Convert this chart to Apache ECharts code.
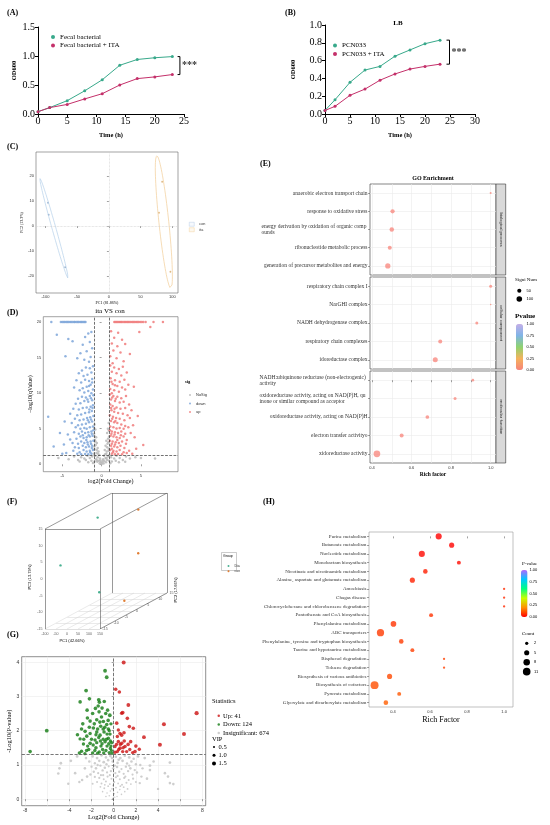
<!DOCTYPE html>
<html>
<head>
<meta charset="utf-8">
<title>Figure</title>
<script src="https://cdn.jsdelivr.net/npm/echarts@6/dist/echarts.min.js"></script>
<style>
  html, body { margin: 0; padding: 0; background: #fff; }
  #fig { width: 550px; height: 825px; }
</style>
</head>
<body>
<div id="fig"></div>
<script>
// ---------- (A) growth of fecal bacteria ----------
var timeA = [0, 2, 5, 8, 11, 14, 17, 20, 23];
var odFecal = [0.04, 0.11, 0.23, 0.40, 0.59, 0.84, 0.94, 0.97, 0.99];
var odFecalIta = [0.04, 0.11, 0.165, 0.26, 0.35, 0.50, 0.61, 0.64, 0.68];

// ---------- (B) PCN033 in LB ----------
var timeB = [0, 2, 5, 8, 11, 14, 17, 20, 23];
var odPcn = [0.04, 0.16, 0.356, 0.494, 0.535, 0.65, 0.72, 0.79, 0.83];
var odPcnIta = [0.04, 0.086, 0.21, 0.28, 0.38, 0.45, 0.505, 0.535, 0.56];

// ---------- (C) PCA scores ----------
var pcaCon = [[-96, 9.3], [-95, 4.5], [-69, -16.5]];
var pcaIta = [[84, 17.7], [79, 5.3], [97, -18.3]];
var pcaTicksX = [-100, -50, 0, 50, 100];
var pcaTicksY = [-20, -10, 0, 10, 20];

// ---------- (D) volcano ita VS con : [log2FC, -log10 q] ----------
var volDown = [
  [-2.05,20],[-2.18,20],[-2.31,20],[-2.47,20],[-2.6,20],[-2.74,20],[-2.93,20],[-3.05,20],[-3.22,20],[-3.4,20],[-3.51,20],
  [-3.7,20],[-3.86,20],[-4.02,20],[-4.21,20],[-4.35,20],[-4.5,20],[-4.68,20],[-4.83,20],[-5.0,20],[-5.18,20],[-6.4,20],
  [-1.3,18.6],[-1.7,18.4],[-2.1,17.9],[-1.5,17.2],[-2.4,16.8],[-1.2,16.3],[-1.9,15.9],[-2.7,15.6],[-1.4,15.1],[-2.2,14.7],
  [-1.6,14.4],[-3.1,14.9],[-5.7,18.2],[-4.24,17.6],[-3.7,17.3],[-4.6,15.2],
  [-1.1,13.8],[-1.5,13.5],[-2.0,13.6],[-2.5,13.2],[-1.3,12.9],[-1.8,12.6],[-2.3,12.4],[-2.9,12.8],[-1.2,12.0],[-1.6,11.7],
  [-2.1,11.9],[-2.6,11.5],[-3.2,11.8],[-1.4,11.2],[-1.9,10.9],[-2.4,10.7],[-1.1,10.5],[-1.7,10.3],[-2.2,10.1],[-2.8,10.4],
  [-3.5,10.8],[-1.3,10.0],
  [-1.05,9.7],[-1.5,9.6],[-2.0,9.4],[-2.5,9.5],[-3.0,9.2],[-1.2,9.0],[-1.7,8.8],[-2.2,8.9],[-2.7,8.6],[-3.3,8.5],[-1.1,8.3],
  [-1.4,8.1],[-1.9,8.0],[-2.4,7.9],[-2.9,7.7],[-3.6,7.8],[-1.25,7.5],[-1.6,7.3],[-2.1,7.2],[-2.6,7.0],[-3.1,6.9],[-4.0,7.1],
  [-1.05,6.8],[-1.45,6.6],[-1.85,6.5],[-2.3,6.3],[-2.8,6.2],[-3.4,6.4],[-6.8,6.7],[-1.2,6.0],[-1.6,5.9],[-2.0,5.7],[-2.5,5.6],
  [-3.0,5.5],[-3.8,5.8],[-4.7,6.0],[-1.1,5.3],[-1.5,5.2],[-1.9,5.0],[-2.2,5.1],[-2.7,5.0],[-3.3,5.2],
  [-1.05,4.8],[-1.3,4.6],[-1.7,4.5],[-2.1,4.4],[-2.5,4.6],[-2.9,4.3],[-3.5,4.5],[-4.3,4.2],[-5.3,4.4],[-1.15,4.0],[-1.5,3.9],
  [-1.9,3.8],[-2.3,3.7],[-2.7,3.9],[-3.2,3.6],[-4.0,3.5],[-1.05,3.3],[-1.4,3.2],[-1.8,3.1],[-2.2,3.0],[-2.6,3.2],[-3.0,2.9],
  [-3.7,3.0],[-4.8,2.8],[-1.2,2.6],[-1.6,2.5],[-2.0,2.4],[-2.4,2.6],[-2.9,2.3],[-3.4,2.4],[-6.1,2.5],[-1.1,2.0],[-1.5,1.9],
  [-1.9,1.8],[-2.3,2.0],[-2.8,1.7],[-3.6,1.9],[-4.5,1.6],[-1.3,1.5],[-1.7,1.4],[-2.1,1.45],[-2.6,1.4],[-3.1,1.5],[-5.0,1.5],
  [-1.35,9.3],[-1.8,9.1],[-1.15,7.9],[-1.55,7.7],[-1.35,6.3],[-1.75,6.2],[-1.25,4.3],[-1.65,4.1],[-1.35,2.9],[-1.75,2.8],
  [-1.25,2.3],[-1.45,1.7],[-1.95,3.4],[-2.4,4.1],[-1.6,11.0],[-1.2,11.5]
];
var volUp = [
  [1.62,20],[1.75,20],[1.9,20],[2.03,20],[2.2,20],[2.34,20],[2.48,20],[2.61,20],[2.8,20],[2.95,20],[3.1,20],[3.27,20],[3.4,20],
  [3.55,20],[3.72,20],[3.9,20],[4.05,20],[4.2,20],[4.38,20],[4.55,20],[4.7,20],[4.9,20],[5.1,20],[5.3,20],[5.6,20],[6.6,20],[7.8,20],
  [1.2,18.7],[2.1,18.5],[1.6,17.8],[2.6,17.5],[1.3,17.0],[2.0,16.6],[3.0,16.9],[1.5,16.0],[2.4,15.7],[1.1,15.2],[1.9,14.9],
  [2.8,14.5],[3.6,15.5],[1.4,14.2],[4.8,18.6],[6.2,19.3],
  [1.1,13.9],[1.6,13.6],[2.2,13.4],[2.7,13.7],[1.3,13.0],[1.9,12.8],[2.5,12.5],[3.2,12.9],[1.15,12.1],[1.7,11.8],[2.3,11.6],
  [2.9,11.9],[1.4,11.3],[2.0,11.0],[2.6,10.8],[3.4,11.2],[1.1,10.6],[1.6,10.4],[2.2,10.2],[3.0,10.5],[4.1,10.9],[1.3,10.0],
  [1.05,9.8],[1.5,9.6],[2.0,9.5],[2.5,9.3],[3.1,9.6],[1.2,9.1],[1.7,8.9],[2.3,8.7],[2.8,8.8],[3.5,8.4],[1.1,8.4],[1.4,8.2],
  [1.9,8.0],[2.4,7.8],[3.0,7.9],[3.8,7.6],[1.25,7.6],[1.6,7.4],[2.1,7.2],[2.7,7.1],[3.3,6.9],[1.05,6.9],[1.45,6.7],[1.85,6.5],
  [2.3,6.4],[2.9,6.2],[3.6,6.5],[4.6,6.8],[1.2,6.1],[1.6,5.9],[2.0,5.8],[2.5,5.6],[3.0,5.4],[4.0,5.5],[1.1,5.3],[1.5,5.2],
  [1.9,5.05],[2.3,5.1],[2.8,5.0],[3.4,5.2],
  [1.05,4.8],[1.3,4.6],[1.7,4.5],[2.1,4.4],[2.5,4.6],[3.0,4.3],[3.7,4.4],[1.15,4.0],[1.5,3.9],[1.9,3.8],[2.3,3.7],[2.8,3.9],
  [3.2,3.4],[4.2,3.8],[1.05,3.3],[1.4,3.2],[1.8,3.1],[2.2,3.0],[2.6,3.2],[3.1,2.9],[1.2,2.6],[1.6,2.5],[2.0,2.4],[2.4,2.6],
  [2.9,2.3],[5.3,2.7],[1.1,2.0],[1.5,1.9],[1.9,1.8],[2.3,2.0],[2.8,1.7],[3.5,1.9],[4.4,2.2],[1.3,1.5],[1.7,1.4],[2.1,1.45],
  [2.6,1.4],[3.2,1.6],[3.9,1.5],
  [1.35,9.4],[1.8,9.2],[1.2,7.9],[1.65,7.8],[1.35,6.4],[1.75,6.1],[1.25,4.3],[1.65,4.2],[1.3,2.9],[1.7,2.8],[1.3,2.2],
  [1.45,1.7],[2.0,3.4],[2.45,4.1],[1.7,11.1],[1.25,11.6]
];
var volNoSig = [
  [-0.9,5.6],[0.9,5.8],[-0.8,4.9],[0.8,5.0],[-0.95,4.3],[0.7,4.4],[-0.7,3.8],[0.95,3.9],[-0.85,3.4],[0.6,3.3],[-0.6,3.0],
  [0.85,3.1],[-0.75,2.7],[0.5,2.6],[-0.5,2.3],[0.7,2.4],[-0.9,2.1],[0.4,2.0],[-0.4,1.8],[0.9,1.9],[-0.65,1.6],[0.6,1.5],
  [-0.3,1.3],[0.3,1.2],[-0.8,1.2],[0.8,1.1],[-0.5,1.0],[0.5,0.9],[-0.2,0.8],[0.2,0.7],[-0.7,0.7],[0.7,0.6],[-0.35,0.5],
  [0.35,0.45],[-0.1,0.3],[0.1,0.25],[-0.55,0.35],[0.55,0.3],[-0.25,0.15],[0.25,0.1],[0,0.05],[-0.9,0.4],[0.95,0.5],
  [-0.95,5.1],[0.92,4.7],[-0.88,3.9],[0.82,3.6],[-0.78,3.2],[0.75,2.9],[-0.92,2.5],[0.9,2.2],[-0.62,2.0],[0.65,1.8],
  [-0.45,1.5],[0.45,1.4],[-0.98,1.5],[0.98,1.3],[-0.15,0.55],[0.15,0.5],[-0.6,0.55],[0.6,0.85],
  [-1.2,1.1],[-1.5,0.9],[-1.8,1.2],[-2.2,0.8],[-2.6,1.0],[-3.0,0.6],[-3.5,1.1],[-4.2,0.7],[-1.3,0.5],[-1.7,0.3],[-2.0,0.6],
  [-2.8,0.4],[-5.5,0.9],[1.2,1.0],[1.6,0.8],[1.9,1.2],[2.3,0.9],[2.7,0.6],[3.1,1.1],[3.6,0.8],[4.3,1.0],[1.3,0.4],[1.8,0.5],
  [2.2,0.3],[3.0,0.35],[5.0,0.9],[6.8,0.8],[-1.1,0.2],[1.1,0.15]
];
var volTicksX = [-5, 0, 5];
var volTicksY = [0, 5, 10, 15, 20];

// ---------- (E) GO enrichment, three facets ----------
var goBP = ['anaerobic electron transport chain', 'response to oxidative stress',
  'energy derivation by oxidation of organic comp\nounds', 'ribonucleotide metabolic process',
  'generation of precursor metabolites and energy'];
var goBPRich = [1.0, 0.504, 0.50, 0.49, 0.48];
var goBPNum = [16, 74, 81, 64, 112];
var goBPP = [0.01, 0.001, 0.001, 0.002, 0.0005];
var goCC = ['respiratory chain complex I', 'NarGHI complex', 'NADH dehydrogenase complex',
  'respiratory chain complexes', 'idoreductase complex'];
var goCCRich = [1.0, 1.0, 0.93, 0.745, 0.72];
var goCCNum = [36, 9, 36, 64, 100];
var goCCP = [0.004, 0.02, 0.003, 0.001, 0.0005];
var goMF = ['NADH:ubiquinone reductase (non-electrogenic)\nactivity',
  'oxidoreductase activity, acting on NAD(P)H, qu\ninone or similar compound as acceptor',
  'oxidoreductase activity, acting on NAD(P)H', 'electron transfer activityo', 'xidoreductase activity'];
var goMFRich = [0.91, 0.82, 0.68, 0.55, 0.425];
var goMFNum = [29, 36, 55, 64, 180];
var goMFP = [0.005, 0.004, 0.002, 0.002, 0.0001];
var goTicks = [0.4, 0.6, 0.8, 1.0];
var goGrid = [0.4, 0.5, 0.6, 0.7, 0.8, 0.9, 1.0];
var goSizeKeys = [50, 100];
var pTicks = [0, 0.25, 0.5, 0.75, 1];

// ---------- (F) 3D PCA: [PC1, PC2, PC3] ----------
var f3Dia = [[17.5, -3, 14.1], [-60, -12, 3], [55, -6, -7.2]];
var f3Con = [[50, 12, 11.1], [80, 9, -0.9], [47.5, 6, -14.1]];
var f3Ticks1 = [-100, -50, 0, 50, 100, 150];
var f3Ticks2 = [-15, -10, -5, 0, 5, 10, 15];
var f3Ticks3 = [-15, -10, -5, 0, 5, 10, 15];

// ---------- (G) metabolite volcano: [log2FC, -log10 p, VIP] ----------
var metDown = [
  [-0.78,3.75,1.4],[-0.63,3.56,1.4],[-2.49,3.17,1.4],[-2.19,2.93,1.3],[-3.03,2.84,1.3],[-1.35,2.9,1.4],[-1.29,2.83,1.3],
  [-6.04,2.0,1.4],[-7.54,1.39,1.3],[-1.4,2.72,1.3],[-1.65,2.65,1.3],[-1.05,2.66,1.3],[-0.35,2.45,1.4],[-1.32,2.55,1.3],
  [-0.72,2.5,1.3],[-2.37,2.37,1.3],[-2.79,2.2,1.3],[-2.13,2.28,1.3],[-1.53,2.32,1.3],[-0.93,2.27,1.3],[-3.27,1.88,1.3],
  [-2.58,1.98,1.3],[-1.83,2.08,1.3],[-1.17,2.13,1.3],[-0.63,2.18,1.3],[-2.13,1.92,1.2],[-1.53,1.96,1.3],[-3.03,1.76,1.2],
  [-2.43,1.84,1.3],[-1.68,1.73,1.2],[-1.23,1.87,1.3],[-0.87,1.96,1.3],[-0.48,2.05,1.3],[-0.33,1.9,1.2],[-2.73,1.61,1.2],
  [-2.13,1.63,1.3],[-1.53,1.65,1.2],[-0.78,1.68,1.3],[-0.48,1.78,1.2],[-0.18,1.65,1.2],[-2.9,1.4,1.2],[-2.25,1.45,1.2],
  [-1.6,1.5,1.3],[-1.15,1.55,1.2],[-0.6,1.55,1.2],[-0.3,1.48,1.2],[-2.6,1.33,1.2],[-1.9,1.35,1.2],[-1.3,1.38,1.2],
  [-0.9,1.35,1.2],[-0.4,1.36,1.2],[-0.15,1.34,1.1],[-1.9,2.5,1.3],[-2.4,2.6,1.3],[-1.1,2.4,1.3],[-0.5,2.3,1.3],
  [-0.85,2.85,1.3],[-1.75,2.2,1.3],[-2.9,2.05,1.3],[-0.25,2.2,1.2],[-1.45,2.05,1.3],[-2.0,1.75,1.2],[-0.95,1.75,1.2],
  [-0.6,1.9,1.2],[-1.35,1.8,1.2],[-2.35,1.55,1.2],[-1.85,1.58,1.2],[-1.0,1.45,1.2],[-0.7,1.42,1.2],[-0.25,1.55,1.2],
  [-3.1,1.35,1.2],[-2.45,1.42,1.2],[-1.7,1.42,1.2],[-1.45,1.34,1.2],[-1.05,1.62,1.2],[-0.45,1.62,1.2],[-0.95,2.05,1.3],
  [-0.55,2.6,1.3],[-0.4,2.0,1.2],[-1.6,1.88,1.2],[-2.7,1.75,1.2],[-0.8,2.1,1.3],[-2.2,2.1,1.3],[-1.25,2.25,1.3],
  [-0.65,1.75,1.2],[-0.3,1.7,1.2],[-0.2,1.42,1.1],[-1.2,1.7,1.2]
];
var metUp = [
  [0.9,3.99,1.5],[0.18,3.21,1.3],[0.51,3.13,1.3],[1.32,2.75,1.4],[0.81,2.53,1.4],[0.72,2.51,1.3],[1.23,2.36,1.3],
  [7.48,2.51,1.6],[4.53,2.19,1.5],[6.34,1.9,1.5],[4.17,1.59,1.5],[2.73,1.81,1.4],[1.77,2.07,1.3],[1.41,2.12,1.3],
  [0.27,2.22,1.3],[0.42,2.02,1.2],[2.31,1.46,1.2],[1.53,1.68,1.3],[0.57,1.92,1.3],[0.33,1.83,1.2],[0.72,1.87,1.3],
  [0.93,1.94,1.3],[0.42,1.68,1.3],[0.72,1.63,1.3],[0.12,1.54,1.2],[0.57,1.49,1.3],[1.02,1.54,1.3],[1.17,1.39,1.2],
  [1.92,1.39,1.3],[1.71,1.36,1.2],[0.81,1.39,1.2],[0.33,1.39,1.2],[0.12,1.37,1.2],[0.95,1.7,1.3],[0.6,1.6,1.2],
  [1.3,1.6,1.3],[0.25,1.6,1.2],[0.85,1.5,1.2],[1.45,1.45,1.2],[0.45,1.45,1.2],[2.0,1.55,1.3]
];
var metNs = [
  [-4.77,1.05,0.9],[-4.9,0.9,0.8],[-5.0,0.75,0.8],[-3.87,1.12,0.9],[-3.48,0.76,0.8],[-3.1,0.5,0.7],[-2.85,0.56,0.8],
  [-2.4,0.66,0.8],[3.27,0.98,0.9],[3.27,0.85,0.8],[5.07,1.07,0.9],[4.62,0.76,0.8],[4.9,0.66,0.8],[5.07,0.47,0.8],
  [5.38,0.44,0.8],[2.5,0.66,0.7],[2.35,0.47,0.7],[3.0,0.6,0.8],[-2.6,0.9,0.8],[-3.3,1.25,0.9],[2.8,1.2,0.9],[3.6,1.1,0.8],
  [-4.1,0.45,0.7],[4.0,0.3,0.7],
  [-1.9,1.25,0.8],[-1.5,1.2,0.9],[-1.1,1.28,0.9],[-0.7,1.22,0.8],[-0.3,1.26,0.9],[0.2,1.24,0.8],[0.6,1.2,0.9],[1.0,1.27,0.8],
  [1.4,1.22,0.9],[1.8,1.18,0.8],[2.2,1.25,0.8],[-2.2,1.1,0.8],[-1.7,1.05,0.7],[-1.3,1.12,0.8],[-0.9,1.08,0.9],[-0.5,1.14,0.8],
  [-0.1,1.1,0.7],[0.35,1.06,0.8],[0.8,1.12,0.9],[1.2,1.04,0.7],[1.6,1.1,0.8],[2.0,1.02,0.7],
  [-2.0,0.95,0.7],[-1.6,0.9,0.8],[-1.2,0.98,0.7],[-0.8,0.92,0.8],[-0.45,0.96,0.6],[-0.05,0.9,0.7],[0.3,0.94,0.8],[0.7,0.88,0.6],
  [1.1,0.95,0.7],[1.5,0.9,0.8],[1.9,0.85,0.7],[-1.8,0.8,0.7],[-1.4,0.76,0.6],[-1.0,0.84,0.7],[-0.6,0.78,0.6],[-0.25,0.82,0.7],
  [0.15,0.76,0.6],[0.5,0.8,0.7],[0.9,0.74,0.6],[1.3,0.82,0.7],[1.7,0.72,0.6],[2.1,0.78,0.7],[-2.1,0.72,0.7],[-0.95,0.7,0.6],
  [-1.7,0.65,0.6],[-1.3,0.62,0.6],[-0.9,0.58,0.5],[-0.55,0.66,0.6],[-0.2,0.6,0.5],[0.2,0.64,0.6],[0.55,0.58,0.5],[0.95,0.62,0.6],
  [1.35,0.56,0.5],[1.75,0.6,0.6],[-1.5,0.5,0.5],[-1.1,0.46,0.5],[-0.7,0.52,0.5],[-0.35,0.44,0.4],[0.05,0.5,0.5],[0.4,0.46,0.4],
  [0.75,0.42,0.5],[1.15,0.48,0.5],[1.55,0.44,0.4],[-1.9,0.45,0.5],[2.0,0.5,0.5],
  [-1.2,0.36,0.4],[-0.85,0.32,0.4],[-0.5,0.38,0.4],[-0.15,0.3,0.3],[0.2,0.34,0.4],[0.55,0.28,0.3],[0.9,0.35,0.4],[1.25,0.3,0.4],
  [-1.0,0.22,0.3],[-0.6,0.18,0.3],[-0.3,0.24,0.3],[0.05,0.16,0.3],[0.35,0.2,0.3],[0.7,0.14,0.3],[1.0,0.22,0.3],[-0.4,0.1,0.3],
  [0.1,0.06,0.2],[-0.1,0.02,0.2],[0.3,0.08,0.2],[-0.7,0.08,0.3],
  [-0.15,1.2,0.8],[0.45,1.15,0.8],[-0.65,1.02,0.7],[0.1,0.98,0.7],[-0.35,0.7,0.6],[0.35,0.68,0.6],[-1.15,0.7,0.6],[1.05,0.66,0.6],
  [-0.05,0.4,0.4],[0.6,0.38,0.4],[-0.8,0.42,0.4],[1.4,0.98,0.7],[-1.45,1.0,0.7],[2.4,1.0,0.7],[-2.5,1.2,0.8],[2.6,0.9,0.7]
];
var metStatNames = ['Up', 'Down', 'Insignificant'];
var metStatCounts = [41, 124, 674];
var metTicksX = [-8, -6, -4, -2, 0, 2, 4, 6, 8];
var metLabelsX = [-8, -4, -2, 0, 2, 4, 8];
var metTicksY = [0, 1, 2, 3, 4];
var vipKeys = [0.5, 1.0, 1.5];

// ---------- (H) KEGG enrichment ----------
var keggTerms = ['Purine metabolism', 'Butanoate metabolism', 'Nucleotide metabolism', 'Monobactam biosynthesis',
  'Nicotinate and nicotinamide metabolism', 'Alanine, aspartate and glutamate metabolism', 'Amoebiasis', 'Chagas disease',
  'Chlorocyclohexane and chlorobenzene degradation', 'Pantothenate and CoA biosynthesis', 'Phenylalanine metabolism',
  'ABC transporters', 'Phenylalanine, tyrosine and tryptophan biosynthesis', 'Taurine and hypotaurine metabolism',
  'Bisphenol degradation', 'Toluene degradation', 'Biosynthesis of various antibiotics', 'Biosynthesis of cofactors',
  'Pyruvate metabolism', 'Glyoxylate and dicarboxylate metabolism'];
var keggRich = [0.647, 0.717, 0.556, 0.756, 0.575, 0.505, 1.0, 1.0, 1.0, 0.606, 0.403, 0.333, 0.445, 0.505, 0.676, 0.676,
  0.382, 0.301, 0.434, 0.362];
var keggCount = [7, 5, 7, 3, 4, 5, 1, 1, 1, 3, 6, 10, 4, 3, 1, 1, 5, 12, 3, 4];
var keggP = [0.002, 0.004, 0.01, 0.015, 0.04, 0.045, 0.06, 0.06, 0.06, 0.07, 0.07, 0.08, 0.08, 0.085, 0.09, 0.09, 0.1,
  0.11, 0.12, 0.13];
var keggTicks = [0.4, 0.6, 0.8, 1.0];
var countKeys = [2, 5, 8, 11];

// ---------- helpers ----------
var SERIF = 'Liberation Serif';
var SANS = 'Liberation Sans';
var grids = [], xAxes = [], yAxes = [], series = [], legends = [], graphics = [], visualMaps = [];

var measureCtx = document.createElement('canvas').getContext('2d');
function textWidth(s, size) {
  measureCtx.font = size + 'px "' + SERIF + '"';
  return measureCtx.measureText(s).width;
}

function addGrid(box, xa, ya) {
  var i = grids.length;
  box.containLabel = false;
  box.outerBoundsMode = 'none';
  grids.push(box);
  xa.gridIndex = i; ya.gridIndex = i;
  xAxes.push(xa); yAxes.push(ya);
  return i;
}
function addSeries(i, s) {
  s.xAxisIndex = i; s.yAxisIndex = i;
  series.push(s);
  return series.length - 1;
}
function txt(x, y, s, o) {
  o = o || {};
  graphics.push({
    type: 'text', x: x, y: y, rotation: o.rot || 0, silent: true,
    style: {
      text: s, fontFamily: o.font || SERIF, fontSize: o.size || 6, fontWeight: o.bold ? 'bold' : 'normal',
      fill: o.color || '#000', align: o.align || 'left', verticalAlign: 'middle'
    }
  });
}
function dot(x, y, r, color) {
  graphics.push({ type: 'circle', silent: true, shape: { cx: x, cy: y, r: r }, style: { fill: color } });
}
function pair(xs, ys) {
  return xs.map(function (x, k) { return [x, ys[k]]; });
}
function prefixName(n) { return n.slice(2); }

// GraphPad-like axes for A and B
function prismAxis(min, max, interval, name, gap, isY) {
  return {
    type: 'value', min: min, max: max, interval: interval,
    axisLine: { onZero: false, lineStyle: { color: '#000', width: 1 } },
    axisTick: { length: 3, lineStyle: { color: '#000', width: 1 } },
    axisLabel: {
      fontFamily: SERIF, fontSize: 10, color: '#000', margin: isY ? 3 : 2,
      formatter: isY ? function (v) { return v.toFixed(1); } : null
    },
    splitLine: { show: false },
    name: name, nameLocation: 'middle', nameGap: gap,
    nameTextStyle: { fontFamily: SERIF, fontSize: 6.5, fontWeight: 'bold', color: '#000' }
  };
}
// framed (ggplot-like) axes
function frameAxis(o) {
  return {
    type: 'value', min: o.min, max: o.max, inverse: !!o.inverse,
    axisLine: { show: false },
    axisTick: { show: o.tick !== false, customValues: o.ticks, length: 2, lineStyle: { color: '#444', width: 0.5 } },
    axisLabel: {
      show: o.label !== false, customValues: o.labels || o.ticks, fontFamily: o.font || SANS, fontSize: o.size || 4,
      color: '#333', margin: o.margin || 2, formatter: o.formatter || null, rich: o.rich || null
    },
    splitLine: { show: !!o.split, lineStyle: { color: '#ebebeb', width: 0.6 } },
    name: o.name || '', nameLocation: 'middle', nameGap: o.gap || 6,
    nameTextStyle: { fontFamily: o.nameFont || SERIF, fontSize: o.nameSize || 5, color: '#000', fontWeight: o.nameBold ? 'bold' : 'normal' }
  };
}
function bracket(i, top, bot, xr, arm) {
  addSeries(i, {
    type: 'line', silent: true, symbol: 'none', lineStyle: { color: '#000', width: 1 },
    data: [[xr - arm, top], [xr, top], [xr, bot], [xr - arm, bot]]
  });
  addSeries(i, {
    type: 'scatter', silent: true, symbolSize: 0, data: [[xr, (top + bot) / 2]],
    label: { show: true, formatter: '***', position: 'right', distance: 2, fontFamily: SERIF, fontSize: 10, fontWeight: 'bold', color: '#000' }
  });
}
// confidence ellipse from the covariance of the points
function ellipse(pts, k) {
  var n = pts.length, mx = 0, my = 0, sxx = 0, syy = 0, sxy = 0;
  pts.forEach(function (p) { mx += p[0]; my += p[1]; });
  mx /= n; my /= n;
  pts.forEach(function (p) { var dx = p[0] - mx, dy = p[1] - my; sxx += dx * dx; syy += dy * dy; sxy += dx * dy; });
  sxx /= n - 1; syy /= n - 1; sxy /= n - 1;
  var tr = sxx + syy, det = sxx * syy - sxy * sxy, disc = Math.sqrt(tr * tr / 4 - det);
  var l1 = tr / 2 + disc, l2 = Math.max(tr / 2 - disc, 0);
  var ang = Math.atan2(l1 - sxx, sxy);
  var out = [];
  for (var s = 0; s <= 90; s++) {
    var t = s / 90 * 2 * Math.PI;
    var a = k * Math.sqrt(l1) * Math.cos(t), b = k * Math.sqrt(l2) * Math.sin(t);
    out.push([mx + a * Math.cos(ang) - b * Math.sin(ang), my + a * Math.sin(ang) + b * Math.cos(ang)]);
  }
  return out;
}

var TEAL = '#38a98b', MAGENTA = '#c4306a';

// ---------- (A) ----------
txt(7, 13, '(A)', { bold: true, size: 8 });
var iA = addGrid({ left: 38, top: 27, width: 146, height: 87 },
  prismAxis(0, 25, 5, 'Time (h)', 17.5), prismAxis(0, 1.5, 0.5, 'OD600', 20, true));
addSeries(iA, { type: 'line', name: 'Fecal bacterial', data: pair(timeA, odFecal), symbol: 'circle', symbolSize: 3,
  lineStyle: { color: TEAL, width: 1 }, itemStyle: { color: TEAL } });
addSeries(iA, { type: 'line', name: 'Fecal bacterial + ITA', data: pair(timeA, odFecalIta), symbol: 'circle', symbolSize: 3,
  lineStyle: { color: MAGENTA, width: 1 }, itemStyle: { color: MAGENTA } });
bracket(iA, odFecal[odFecal.length - 1], odFecalIta[odFecalIta.length - 1], timeA[timeA.length - 1] + 1.3, 0.4);
legends.push({ left: 46, top: 28.5, orient: 'vertical', data: ['Fecal bacterial', 'Fecal bacterial + ITA'], icon: 'circle',
  itemWidth: 4, itemHeight: 4, itemGap: 1.4, textStyle: { fontFamily: SERIF, fontSize: 7, lineHeight: 7, color: '#000' } });

// ---------- (B) ----------
txt(285, 13, '(B)', { bold: true, size: 8 });
txt(398, 23, 'LB', { bold: true, size: 7, align: 'center' });
var iB = addGrid({ left: 325, top: 25, width: 150, height: 89 },
  prismAxis(0, 30, 5, 'Time (h)', 17.5), prismAxis(0, 1.0, 0.2, 'OD600', 28, true));
addSeries(iB, { type: 'line', name: 'PCN033', data: pair(timeB, odPcn), symbol: 'circle', symbolSize: 3,
  lineStyle: { color: TEAL, width: 1 }, itemStyle: { color: TEAL } });
addSeries(iB, { type: 'line', name: 'PCN033 + ITA', data: pair(timeB, odPcnIta), symbol: 'circle', symbolSize: 3,
  lineStyle: { color: MAGENTA, width: 1 }, itemStyle: { color: MAGENTA } });
bracket(iB, odPcn[odPcn.length - 1], odPcnIta[odPcnIta.length - 1], timeB[timeB.length - 1] + 1.9, 0.6);
legends.push({ left: 328, top: 37, orient: 'vertical', data: ['PCN033', 'PCN033 + ITA'], icon: 'circle',
  itemWidth: 4, itemHeight: 4, itemGap: 1.4, textStyle: { fontFamily: SERIF, fontSize: 7, lineHeight: 7, color: '#000' } });

// ---------- (C) ----------
txt(7, 147, '(C)', { bold: true, size: 8 });
var iC = addGrid({ left: 36, top: 152, width: 142, height: 141, show: true, borderColor: '#666', borderWidth: 0.6 },
  frameAxis({ min: -115, max: 109, ticks: pcaTicksX, name: 'PC1 (81.86%)', gap: 7.5, nameSize: 4 }),
  frameAxis({ min: -26.8, max: 29.6, ticks: pcaTicksY, name: 'PC2 (13.3%)', gap: 6.5, nameSize: 4 }));
addSeries(iC, { type: 'line', silent: true, symbol: 'none', data: ellipse(pcaCon, 1.45),
  lineStyle: { color: '#b4d0ea', width: 0.7 }, markLine: { silent: true, symbol: 'none', label: { show: false },
    lineStyle: { color: '#d0d0d0', type: 'dotted', width: 0.7 }, data: [{ xAxis: 0 }, { yAxis: 0 }] } });
addSeries(iC, { type: 'line', silent: true, symbol: 'none', data: ellipse(pcaIta, 1.45),
  lineStyle: { color: '#f2cd96', width: 0.7 } });
addSeries(iC, { type: 'scatter', name: 'C:con', data: pcaCon, symbolSize: 1.8, itemStyle: { color: '#7d9cc0' } });
addSeries(iC, { type: 'scatter', name: 'C:ita', data: pcaIta, symbolSize: 1.8, itemStyle: { color: '#d6a866' } });
legends.push({ left: 184, top: 217, orient: 'vertical', formatter: prefixName, icon: 'rect', itemWidth: 5, itemHeight: 4, itemGap: 1,
  data: [{ name: 'C:con', itemStyle: { color: '#f4f8fc', borderColor: '#a9c6e4', borderWidth: 0.5 } },
         { name: 'C:ita', itemStyle: { color: '#fdf6ea', borderColor: '#efc88e', borderWidth: 0.5 } }],
  textStyle: { fontFamily: SANS, fontSize: 3.8, lineHeight: 4, color: '#333' } });

// ---------- (D) ----------
txt(7, 313, '(D)', { bold: true, size: 8 });
txt(110, 311, 'ita VS con', { size: 7, align: 'center' });
var iD = addGrid({ left: 43.3, top: 316.7, width: 134.7, height: 155, show: true, borderColor: '#666', borderWidth: 0.6 },
  frameAxis({ min: -7.42, max: 9.72, ticks: volTicksX, name: 'log2(Fold Change)', gap: 5.5, nameSize: 6 }),
  frameAxis({ min: -1.04, max: 20.75, ticks: volTicksY, name: '\u2212log10(qValue)', gap: 7.5, nameSize: 6 }));
addSeries(iD, { type: 'scatter', name: 'D:NoSig', data: volNoSig, symbolSize: 2.5, itemStyle: { color: '#b9b9b9', opacity: 0.85 } });
addSeries(iD, { type: 'scatter', name: 'D:down', data: volDown, symbolSize: 2.5, itemStyle: { color: '#7ea6d9', opacity: 0.85 } });
addSeries(iD, { type: 'scatter', name: 'D:up', data: volUp, symbolSize: 2.5, itemStyle: { color: '#f07b7b', opacity: 0.85 },
  markLine: { silent: true, symbol: 'none', label: { show: false }, lineStyle: { color: '#333', type: 'dashed', width: 0.7 },
    data: [{ xAxis: -1 }, { xAxis: 1 }, { yAxis: 1.3 }] } });
txt(185, 382, 'sig', { size: 4.5, bold: true });
legends.push({ left: 184, top: 387.5, orient: 'vertical', formatter: prefixName, icon: 'circle', itemWidth: 2, itemHeight: 2,
  itemGap: 3.5, data: ['D:NoSig', 'D:down', 'D:up'], textStyle: { fontFamily: SANS, fontSize: 4, lineHeight: 5, color: '#333' } });

// ---------- (E) ----------
txt(260, 164, '(E)', { bold: true, size: 8 });
txt(433, 178, 'GO Enrichment', { bold: true, size: 6, align: 'center' });
function sizeE(n) { return Math.sqrt(n) * 0.5; }
var eFacets = [
  { terms: goBP, rich: goBPRich, num: goBPNum, p: goBPP, top: 184, height: 91, strip: 'biological process' },
  { terms: goCC, rich: goCCRich, num: goCCNum, p: goCCP, top: 277, height: 92, strip: 'cellular component' },
  { terms: goMF, rich: goMFRich, num: goMFNum, p: goMFP, top: 371, height: 92, strip: 'molecular function' }
];
var eSeries = [];
eFacets.forEach(function (f, k) {
  var last = k === eFacets.length - 1;
  var richStyles = {};
  var keys = f.terms.map(function (t, j) {
    var lines = t.split('\n');
    if (lines.length < 2) return null;
    var key = 'f' + k + 't' + j;
    var w = Math.max.apply(null, lines.map(function (l) { return textWidth(l, 5.5); }));
    richStyles[key] = { width: Math.ceil(w) + 1, align: 'left', fontFamily: SERIF, fontSize: 5.5, lineHeight: 6, color: '#333' };
    return key;
  });
  var gi = addGrid({ left: 370, top: f.top, width: 126, height: f.height, show: true, borderColor: '#333', borderWidth: 0.6 },
    frameAxis({ min: 0.39, max: 1.027, ticks: goGrid, labels: goTicks, split: true, tick: last, label: last, margin: 3,
      formatter: function (v) { return v.toFixed(1); }, name: last ? 'Rich factor' : '', gap: 8.5, nameSize: 5.5, nameBold: true }),
    frameAxis({ min: -0.5, max: f.terms.length - 0.5, inverse: true, ticks: f.terms.map(function (t, j) { return j; }), split: true,
      font: SERIF, size: 5.5, margin: 2.5, rich: richStyles,
      formatter: function (v) {
        var t = f.terms[v];
        if (t === undefined) return '';
        if (!keys[v]) return t;
        return t.split('\n').map(function (l) { return '{' + keys[v] + '|' + l + '}'; }).join('\n');
      } }));
  var data = f.terms.map(function (t, j) { return [f.rich[j], j, f.num[j], f.p[j]]; });
  eSeries.push(addSeries(gi, { type: 'scatter', data: data, symbolSize: function (v) { return sizeE(v[2]); },
    itemStyle: { opacity: 0.75 } }));
  graphics.push({ type: 'rect', silent: true, shape: { x: 496, y: f.top, width: 9.7, height: f.height },
    style: { fill: '#d9d9d9', stroke: '#333', lineWidth: 0.6 } });
  txt(500.9, f.top + f.height / 2, f.strip, { size: 4.3, align: 'center', rot: -Math.PI / 2, color: '#222', font: SANS });
});
visualMaps.push({ type: 'continuous', min: 0, max: 1, dimension: 3, seriesIndex: eSeries, calculable: false,
  left: 516, top: 324, itemWidth: 7, itemHeight: 46, padding: 0, text: null, showLabel: false,
  inRange: { color: ['#f8837a', '#f4b25c', '#8fd36f', '#80b4e6', '#c4aee9'] } });
txt(515, 280, 'Signi Num', { size: 5, font: SERIF });
goSizeKeys.forEach(function (n, k) {
  dot(519.3, 290.7 + k * 8.3, sizeE(n) / 2 + 0.3, '#000');
  txt(526.5, 290.7 + k * 8.3, String(n), { size: 4, font: SANS });
});
txt(515, 316.5, 'Pvalue', { size: 7, bold: true });
pTicks.forEach(function (v) { txt(526.5, 324 + 46 * (1 - v), v.toFixed(2), { size: 4, font: SANS }); });

// ---------- (F) ----------
txt(7, 502, '(F)', { bold: true, size: 8 });
var F_W = 55, F_H = 100, F_DX = 67, F_DY = 36;
function proj(a, b, c) {
  var u = (a - f3Ticks1[0]) / (f3Ticks1[f3Ticks1.length - 1] - f3Ticks1[0]);
  var v = (b - f3Ticks2[0]) / (f3Ticks2[f3Ticks2.length - 1] - f3Ticks2[0]);
  var w = (c - f3Ticks3[0]) / (f3Ticks3[f3Ticks3.length - 1] - f3Ticks3[0]);
  return [u * F_W + v * F_DX, w * F_H + v * F_DY];
}
var r1 = [f3Ticks1[0], f3Ticks1[f3Ticks1.length - 1]];
var r2 = [f3Ticks2[0], f3Ticks2[f3Ticks2.length - 1]];
var r3 = [f3Ticks3[0], f3Ticks3[f3Ticks3.length - 1]];
function corner(a, b, c) { return proj(r1[a], r2[b], r3[c]); }
var boxEdges = [
  [[0,0,0],[0,0,1]], [[1,0,0],[1,0,1]], [[0,1,0],[0,1,1]], [[1,1,0],[1,1,1]],
  [[0,0,1],[1,0,1]], [[1,0,1],[1,1,1]], [[1,1,1],[0,1,1]], [[0,1,1],[0,0,1]],
  [[0,0,0],[1,0,0]], [[1,0,0],[1,1,0]]
];
var floorLines = [];
f3Ticks1.forEach(function (t) { floorLines.push({ coords: [proj(t, r2[0], r3[0]), proj(t, r2[1], r3[0])] }); });
f3Ticks2.forEach(function (t) { floorLines.push({ coords: [proj(r1[0], t, r3[0]), proj(r1[1], t, r3[0])] }); });
var hidden = { type: 'value', show: false, axisLine: { show: false }, splitLine: { show: false } };
var iF = addGrid({ left: 45, top: 493, width: F_W + F_DX, height: F_H + F_DY },
  Object.assign({ min: 0, max: F_W + F_DX }, hidden), Object.assign({ min: 0, max: F_H + F_DY }, hidden));
addSeries(iF, { type: 'lines', coordinateSystem: 'cartesian2d', silent: true, data: floorLines,
  lineStyle: { color: '#d4d4d4', width: 0.5, opacity: 1 } });
addSeries(iF, { type: 'lines', coordinateSystem: 'cartesian2d', silent: true,
  data: boxEdges.map(function (e) { return { coords: [corner.apply(null, e[0]), corner.apply(null, e[1])] }; }),
  lineStyle: { color: '#555', width: 0.6, opacity: 1 } });
function tickLabels(points, pos) {
  return { type: 'scatter', silent: true, symbolSize: 0, data: points,
    label: { show: true, position: pos, distance: 2.5, fontFamily: SANS, fontSize: 3.6, color: '#333',
      formatter: function (p) { return String(p.value[2]); } } };
}
addSeries(iF, tickLabels(f3Ticks1.map(function (t) { return proj(t, r2[0], r3[0]).concat([t]); }), 'bottom'));
addSeries(iF, tickLabels(f3Ticks3.map(function (t) { return proj(r1[0], r2[0], t).concat([t]); }), 'left'));
addSeries(iF, tickLabels(f3Ticks2.map(function (t) { return proj(r1[1], t, r3[0]).concat([t]); }), 'right'));
addSeries(iF, { type: 'scatter', name: 'F:Dia', data: f3Dia.map(function (p) { return proj(p[0], p[1], p[2]); }),
  symbolSize: 2.4, itemStyle: { color: '#1b9e77' } });
addSeries(iF, { type: 'scatter', name: 'F:con', data: f3Con.map(function (p) { return proj(p[0], p[1], p[2]); }),
  symbolSize: 2.4, itemStyle: { color: '#d95f02' } });
txt(72, 641, 'PC1 (42.66%)', { size: 4, align: 'center', font: SANS });
txt(30, 577, 'PC3 (13.79%)', { size: 4, align: 'center', rot: Math.PI / 2, font: SANS });
txt(175.5, 590, 'PC2 (17.66%)', { size: 4, align: 'center', rot: Math.PI / 2, font: SANS });
graphics.push({ type: 'rect', silent: true, shape: { x: 221.5, y: 552.5, width: 15, height: 18 },
  style: { fill: '#fff', stroke: '#999', lineWidth: 0.5 } });
txt(223, 556, 'Group', { size: 3.5, font: SANS });
legends.push({ left: 222.5, top: 559, orient: 'vertical', formatter: prefixName, icon: 'circle', itemWidth: 2, itemHeight: 2,
  itemGap: 1.2, data: ['F:Dia', 'F:con'], textStyle: { fontFamily: SANS, fontSize: 3.5, lineHeight: 4, color: '#333' } });

// ---------- (G) ----------
txt(7, 635, '(G)', { bold: true, size: 8 });
function sizeVip(v) { return 1 + v * 2; }
var iG = addGrid({ left: 21.7, top: 656.7, width: 184, height: 149, show: true, borderColor: '#444', borderWidth: 0.6 },
  frameAxis({ min: -8.3, max: 8.3, ticks: metTicksX, labels: metLabelsX, split: true, size: 5, margin: 2.5,
    name: 'Log2(Fold Change)', gap: 7.5, nameSize: 6.5 }),
  frameAxis({ min: -0.19, max: 4.16, ticks: metTicksY, split: true, size: 5, margin: 2.5,
    name: '-Log10(P-value)', gap: 7, nameSize: 6.5 }));
addSeries(iG, { type: 'scatter', name: 'Insignificant', data: metNs, symbolSize: function (v) { return sizeVip(v[2]); },
  itemStyle: { color: '#c2c2c2' } });
addSeries(iG, { type: 'scatter', name: 'Down', data: metDown, symbolSize: function (v) { return sizeVip(v[2]); },
  itemStyle: { color: '#127a12' } });
addSeries(iG, { type: 'scatter', name: 'Up', data: metUp, symbolSize: function (v) { return sizeVip(v[2]); },
  itemStyle: { color: '#cc1010' },
  markLine: { silent: true, symbol: 'none', label: { show: false }, lineStyle: { color: '#555', type: 'dashed', width: 0.8 },
    data: [{ yAxis: -Math.log10(0.05) }, { xAxis: 0 }] } });
txt(212, 701, 'Statistics', { size: 6.5 });
legends.push({ left: 212.5, top: 706.6, orient: 'vertical', icon: 'circle', itemWidth: 2.5, itemHeight: 2.5, itemGap: 0.1,
  data: metStatNames, formatter: function (n) { return n + ': ' + metStatCounts[metStatNames.indexOf(n)]; },
  textStyle: { fontFamily: SERIF, fontSize: 6.5, lineHeight: 8.5, color: '#000', padding: [0, 0, 0, -2] } });
txt(212, 739, 'VIP', { size: 6.5 });
vipKeys.forEach(function (v, k) {
  dot(214, 747 + k * 8.3, sizeVip(v) / 2, '#000');
  txt(218.5, 747 + k * 8.3, v.toFixed(1), { size: 6.5 });
});

// ---------- (H) ----------
txt(263, 502, '(H)', { bold: true, size: 8 });
function sizeCount(c) { return Math.sqrt(c) * 2.3; }
var iH = addGrid({ left: 369, top: 532, width: 144, height: 175, show: true, borderColor: '#999', borderWidth: 0.6 },
  frameAxis({ min: 0.271, max: 1.048, ticks: keggTicks, size: 4, margin: 2.5,
    formatter: function (v) { return v.toFixed(1); }, name: 'Rich Factor', gap: 8.5, nameSize: 8 }),
  frameAxis({ min: -0.5, max: keggTerms.length - 0.5, inverse: true, ticks: keggTerms.map(function (t, j) { return j; }),
    font: SERIF, size: 5, margin: 2.5, formatter: function (v) { return keggTerms[v] || ''; } }));
var hSeries = addSeries(iH, { type: 'scatter',
  data: keggTerms.map(function (t, j) { return [keggRich[j], j, keggCount[j], keggP[j]]; }),
  symbolSize: function (v) { return sizeCount(v[2]); } });
visualMaps.push({ type: 'continuous', min: 0, max: 1, dimension: 3, seriesIndex: [hSeries], calculable: false,
  left: 521, top: 570, itemWidth: 6.5, itemHeight: 47, padding: 0, text: null, showLabel: false,
  inRange: { color: ['#ff0000', '#ff9000', '#c8ff00', '#00ff80', '#00c8ff', '#b366ff'] } });
txt(522, 564, 'P-value', { size: 5 });
pTicks.forEach(function (v) { txt(529.5, 570 + 47 * (1 - v), v.toFixed(2), { size: 4, font: SANS }); });
txt(522, 634, 'Count', { size: 5 });
countKeys.forEach(function (c, k) {
  dot(526.7, 643.3 + k * 9.45, sizeCount(c) / 2, '#000');
  txt(534, 643.3 + k * 9.45, String(c), { size: 4, font: SANS });
});

// ---------- render ----------
var chart = echarts.init(document.getElementById('fig'), null, { renderer: 'canvas' });
chart.setOption({
  animation: false,
  backgroundColor: '#fff',
  grid: grids,
  xAxis: xAxes,
  yAxis: yAxes,
  legend: legends,
  visualMap: visualMaps,
  series: series,
  graphic: { elements: graphics }
});
</script>
</body>
</html>
